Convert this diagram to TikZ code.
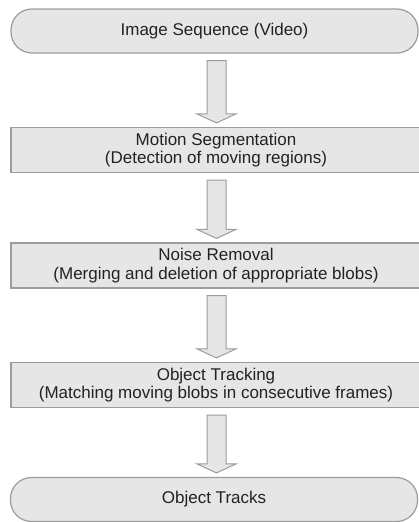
\documentclass[tikz,border=0pt]{standalone}
\usepackage{fontspec}
\setmainfont{Liberation Sans}
\usetikzlibrary{calc}
\definecolor{boxfill}{HTML}{E6E6E6}
\definecolor{boxline}{HTML}{9C9C9C}
\definecolor{txt}{HTML}{222222}
\newcommand\flowarrow[2]{%
  \draw[blockarrow] let \p1=(#1.south), \p2=(#2.north) in
    (207pt,\y1-7pt) -- (226pt,\y1-7pt) -- (226pt,\y2+13pt) -- (236pt,\y2+13pt)
    -- (216.5pt,\y2+4pt) -- (197pt,\y2+13pt) -- (207pt,\y2+13pt) -- cycle;}
\begin{document}
\begin{tikzpicture}[x=1pt,y=-1pt,
  every node/.style={font=\fontsize{17}{18.5}\selectfont, text=txt, align=center, inner sep=0pt},
  stadium/.style={draw=boxline, fill=boxfill, line width=1.2pt, rounded corners=21pt, minimum width=407pt, minimum height=44pt},
  procbox/.style={draw=boxline, fill=boxfill, line width=1.2pt, minimum width=410pt, minimum height=45pt},
  blockarrow/.style={draw=boxline, fill=boxfill, line width=1pt, line join=miter}]
\useasboundingbox (0,0) rectangle (419,522);
\clip (0,0) rectangle (419,522);
\node[stadium] (src) at (214.5,31) {Image Sequence (Video)};
\node[procbox] (seg) at (216,150) {Motion Segmentation\\(Detection of moving regions)};
\node[procbox] (noise) at (216,265.5) {Noise Removal\\(Merging and deletion of appropriate blobs)};
\node[procbox] (track) at (216,385) {Object Tracking\\(Matching moving blobs in consecutive frames)};
\node[stadium] (out) at (214,499.5) {Object Tracks};
\flowarrow{src}{seg}
\flowarrow{seg}{noise}
\flowarrow{noise}{track}
\flowarrow{track}{out}
\end{tikzpicture}
\end{document}
